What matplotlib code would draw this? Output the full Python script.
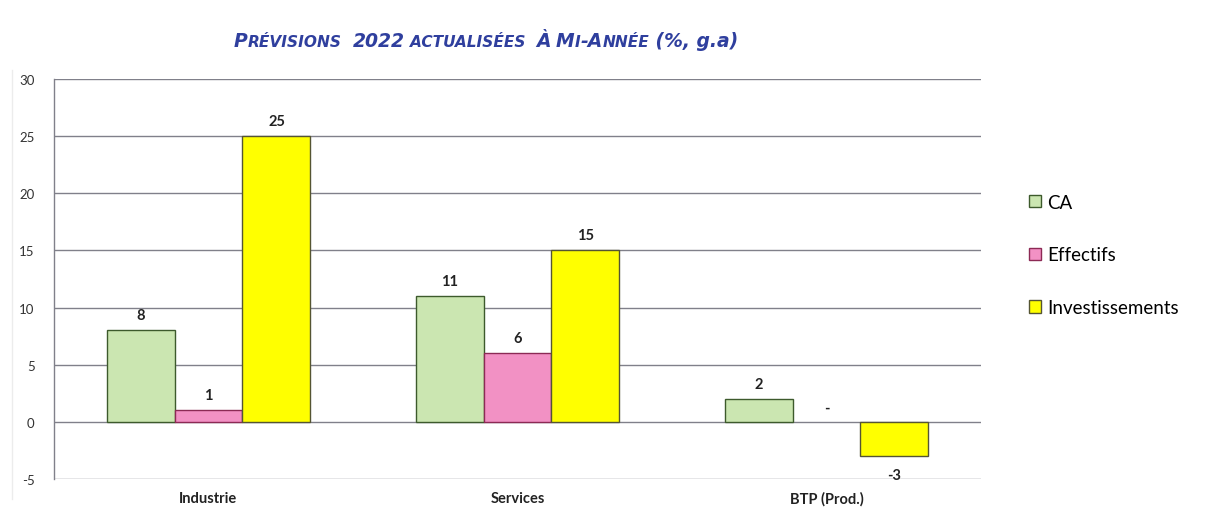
import numpy as np
import matplotlib

matplotlib.use("Agg")
import matplotlib.pyplot as plt
from matplotlib.patches import Patch
from matplotlib.transforms import IdentityTransform
from matplotlib.lines import Line2D

# Données (%, glissement annuel)
categories = ["Industrie", "Services", "BTP (Prod.)"]
series_names = ["CA", "Effectifs", "Investissements"]
ca = [8, 11, 2]
effectifs = [1, 6, np.nan]
investissements = [25, 15, -3]
y_ticks = [-5, 0, 5, 10, 15, 20, 25, 30]

FONT = "Lato"
colors = ["#cbe6b1", "#f291c4", "#ffff00"]
edges = ["#3d5a2c", "#8c2a55", "#555533"]

fig = plt.figure(figsize=(12.14, 5.10), dpi=100)
fig.patch.set_facecolor("white")
ax = fig.add_axes([54 / 1214, 1 - 480 / 510, (981 - 54) / 1214, 400 / 510])

x = np.arange(len(categories))
width = 0.22
offsets = [-width, 0.0, width]

for vals, off, col, ec, name in zip(
    (ca, effectifs, investissements), offsets, colors, edges, series_names
):
    vals = np.asarray(vals, dtype=float)
    ok = ~np.isnan(vals)
    ax.bar((x + off)[ok], vals[ok], width=width, color=col,
           edgecolor=ec, linewidth=1.0, zorder=3, label=name)
    for xi, v in zip(x + off, vals):
        if np.isnan(v):
            ax.annotate("-", (xi, 0), xytext=(0, 14), textcoords="offset pixels",
                        ha="center", va="center", fontsize=10.5,
                        fontweight="bold", color="#222222", family=FONT)
        elif v >= 0:
            ax.annotate(f"{v:.0f}", (xi, v), xytext=(0, 15),
                        textcoords="offset pixels", ha="center", va="center",
                        fontsize=10.5, fontweight="bold", color="#222222",
                        family=FONT)
        else:
            ax.annotate(f"{v:.0f}", (xi, v), xytext=(0, -19),
                        textcoords="offset pixels", ha="center", va="center",
                        fontsize=10.5, fontweight="bold", color="#222222",
                        family=FONT)

ax.set_xlim(-0.5, len(categories) - 0.5)
ax.set_ylim(-5, 30)
ax.set_yticks(y_ticks)
ax.set_yticklabels([str(t) for t in y_ticks], family=FONT, fontsize=9.5,
                   color="#333333")
ax.set_xticks(x)
ax.set_xticklabels(categories, family=FONT, fontsize=10.5, fontweight="bold",
                   color="#222222")
ax.tick_params(axis="y", length=0, pad=14)
ax.tick_params(axis="x", length=0, pad=9)
ax.yaxis.grid(True, color="#80808a", linewidth=1.0, zorder=0)
ax.set_axisbelow(True)
for side in ("top", "right", "bottom"):
    ax.spines[side].set_visible(False)
ax.spines["left"].set_color("#80808a")
ax.spines["left"].set_linewidth(1.0)

# Légende à droite
handles = [Patch(facecolor=c, edgecolor=e, linewidth=1.0) for c, e in zip(colors, edges)]
fig.legend(handles, series_names, loc="center left",
           bbox_to_anchor=(1029 / 1214, 1 - 256 / 510), frameon=False,
           prop={"family": FONT, "size": 13.5}, handlelength=0.62,
           handleheight=0.62, handletextpad=0.35, labelspacing=1.9,
           borderpad=0, borderaxespad=0)

# Bord de page léger (scan)
fig.add_artist(Line2D([12 / 1214, 12 / 1214], [0.02, 0.86],
                      transform=fig.transFigure, color="#ececec", linewidth=1))

# Titre en petites capitales, composé morceau par morceau
TFONT = "DejaVu Sans"
BIG, SMALL = 13.5, 11.1
pieces = [
    ("P", BIG), ("RÉVISIONS", SMALL), ("  ", SMALL), ("2022", BIG),
    (" ", SMALL), ("ACTUALISÉES", SMALL), ("  ", SMALL), ("À", BIG), (" ", SMALL),
    ("M", BIG), ("I", SMALL), ("-A", BIG), ("NNÉE", SMALL), (" (%, g.a)", BIG),
]
renderer = fig.canvas.get_renderer()
xpos = 234.0
ypos = 510 - 47
for txt, size in pieces:
    t = fig.text(xpos, ypos, txt.replace(" ", "\u00a0"), transform=IdentityTransform(),
                 family=TFONT, fontsize=size, fontweight="bold", fontstyle="italic",
                 color="#2f3f9e", ha="left", va="baseline")
    xpos += t.get_window_extent(renderer).width

fig.savefig("out.png", dpi=100)
